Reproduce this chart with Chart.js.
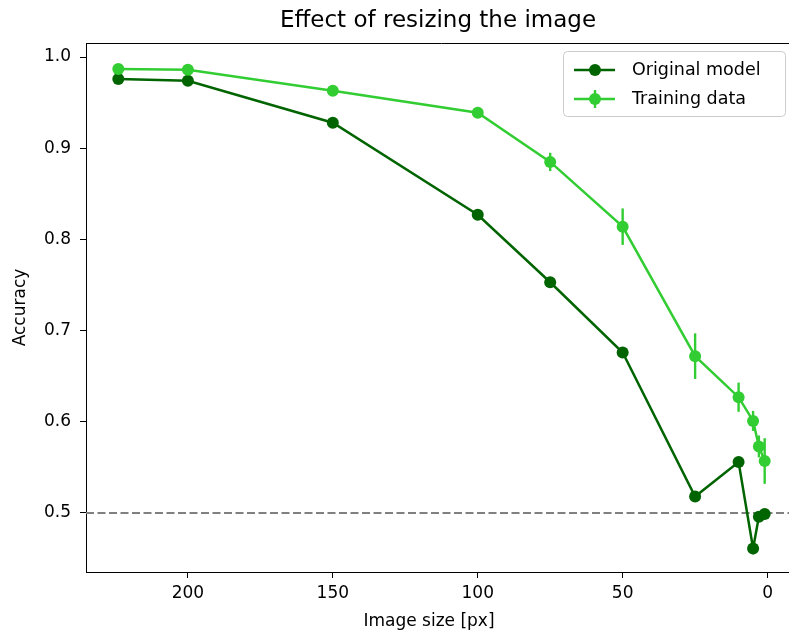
<!DOCTYPE html>
<html>
<head>
<meta charset="utf-8">
<script src="https://cdn.jsdelivr.net/npm/chart.js@4.4.1/dist/chart.umd.min.js"></script>
<style>
html,body{margin:0;padding:0;background:#fff;overflow:hidden;}
#wrap{width:789px;height:638px;position:relative;overflow:hidden;}
</style>
</head>
<body>
<div id="wrap"><canvas id="c" width="803" height="638"></canvas></div>
<script>
// ---- data ----
const imageSizes = [224, 200, 150, 100, 75, 50, 25, 10, 5, 3, 1];
const originalAcc = [0.976, 0.974, 0.928, 0.827, 0.753, 0.676, 0.518, 0.556, 0.461, 0.496, 0.499];
const trainingAcc = [0.987, 0.986, 0.963, 0.939, 0.885, 0.814, 0.672, 0.627, 0.601, 0.573, 0.557];
const trainingErr = [0.002, 0.002, 0.002, 0.004, 0.010, 0.020, 0.025, 0.016, 0.011, 0.012, 0.025];
const xTicks = [200, 150, 100, 50, 0];
const yTicks = [0.5, 0.6, 0.7, 0.8, 0.9, 1.0];
const chanceLevel = 0.5;
const seriesNames = ['Original model', 'Training data'];
const chartTitle = 'Effect of resizing the image';
const xTitle = 'Image size [px]';
const yTitle = 'Accuracy';

const DARK = '#006400';
const LIME = '#32cd32';
const FONT = "'DejaVu Sans', sans-serif";

const origPts = imageSizes.map((x, i) => ({x: x, y: originalAcc[i]}));
const trainPts = imageSizes.map((x, i) => ({x: x, y: trainingAcc[i]}));

const extras = {
  id: 'extras',
  beforeDatasetsDraw(chart) {
    const {ctx, chartArea, scales} = chart;
    const y = scales.y.getPixelForValue(chanceLevel);
    ctx.save();
    ctx.strokeStyle = '#808080';
    ctx.lineWidth = 2;
    ctx.setLineDash([8, 3.5]);
    ctx.beginPath();
    ctx.moveTo(chartArea.left, y);
    ctx.lineTo(chartArea.right, y);
    ctx.stroke();
    ctx.restore();
  },
  beforeDatasetDraw(chart, args) {
    if (args.index !== 1) return;
    const {ctx, scales} = chart;
    ctx.save();
    ctx.strokeStyle = LIME;
    ctx.lineWidth = 2.4;
    imageSizes.forEach((xv, i) => {
      const px = scales.x.getPixelForValue(xv);
      const y1 = scales.y.getPixelForValue(trainingAcc[i] - trainingErr[i]);
      const y2 = scales.y.getPixelForValue(trainingAcc[i] + trainingErr[i]);
      ctx.beginPath();
      ctx.moveTo(px, y1);
      ctx.lineTo(px, y2);
      ctx.stroke();
    });
    ctx.restore();
  },
  afterDraw(chart) {
    const {ctx, chartArea} = chart;
    ctx.save();
    // title
    ctx.fillStyle = '#000';
    ctx.font = '23px ' + FONT;
    ctx.textAlign = 'center';
    ctx.textBaseline = 'middle';
    ctx.fillText(chartTitle, 438, 21);
    // x axis label
    ctx.font = '17px ' + FONT;
    ctx.fillText(xTitle, 429, 622);
    // top spine
    ctx.strokeStyle = '#000';
    ctx.lineWidth = 1;
    ctx.beginPath();
    ctx.moveTo(chartArea.left, chartArea.top + 0.5);
    ctx.lineTo(chartArea.right, chartArea.top + 0.5);
    ctx.stroke();
    // legend
    const bx = 563.5, by = 51.5, bw = 222, bh = 65;
    ctx.fillStyle = 'rgba(255,255,255,0.8)';
    ctx.strokeStyle = '#cccccc';
    ctx.lineWidth = 1;
    ctx.beginPath();
    ctx.roundRect(bx, by, bw, bh, 4);
    ctx.fill();
    ctx.stroke();
    const rows = [{y: 70, c: DARK, err: false}, {y: 99, c: LIME, err: true}];
    rows.forEach((r, i) => {
      ctx.strokeStyle = r.c;
      ctx.fillStyle = r.c;
      ctx.lineWidth = 2.5;
      ctx.beginPath();
      ctx.moveTo(574, r.y);
      ctx.lineTo(615, r.y);
      ctx.stroke();
      if (r.err) {
        ctx.lineWidth = 2.4;
        ctx.beginPath();
        ctx.moveTo(595, r.y - 9);
        ctx.lineTo(595, r.y + 9);
        ctx.stroke();
      }
      ctx.beginPath();
      ctx.arc(595, r.y, 6, 0, Math.PI * 2);
      ctx.fill();
      ctx.fillStyle = '#000';
      ctx.font = '17.5px ' + FONT;
      ctx.textBaseline = 'middle';
      ctx.textAlign = 'left';
      ctx.fillText(seriesNames[i], 632, r.y);
    });
    ctx.restore();
  }
};

new Chart(document.getElementById('c'), {
  type: 'line',
  data: {
    datasets: [
      {label: seriesNames[0], data: origPts, borderColor: DARK, backgroundColor: DARK,
       borderWidth: 2.5, pointRadius: 6, pointHoverRadius: 6, pointBorderWidth: 0, order: 2, tension: 0},
      {label: seriesNames[1], data: trainPts, borderColor: LIME, backgroundColor: LIME,
       borderWidth: 2.5, pointRadius: 6, pointHoverRadius: 6, pointBorderWidth: 0, order: 1, tension: 0}
    ]
  },
  options: {
    responsive: false,
    animation: false,
    events: [],
    layout: {padding: {left: 0, right: 0, top: 43, bottom: 0}},
    plugins: {
      legend: {display: false},
      tooltip: {enabled: false},
      title: {display: false}
    },
    scales: {
      x: {
        type: 'linear', reverse: true, min: -10.15, max: 235.15,
        afterBuildTicks(s) { s.ticks = xTicks.map(v => ({value: v})); },
        afterFit(s) { s.height = 66; },
        ticks: {color: '#000', font: {family: FONT, size: 17}, padding: 5, maxRotation: 0,
                callback: v => String(v)},
        grid: {drawOnChartArea: false, drawTicks: true, tickLength: 6, color: '#000', tickWidth: 1},
        border: {display: true, color: '#000', width: 1},
        title: {display: false}
      },
      y: {
        type: 'linear', min: 0.4353, max: 1.0154,
        afterBuildTicks(s) { s.ticks = yTicks.map(v => ({value: v})); },
        afterFit(s) { s.width = 86; },
        ticks: {color: '#000', font: {family: FONT, size: 17}, padding: 9,
                callback: v => v.toFixed(1)},
        grid: {drawOnChartArea: false, drawTicks: true, tickLength: 6, color: '#000', tickWidth: 1},
        border: {display: true, color: '#000', width: 1},
        title: {display: true, text: yTitle, color: '#000', font: {family: FONT, size: 17},
                padding: {top: 10, bottom: 0}}
      }
    }
  },
  plugins: [extras]
});
</script>
</body>
</html>
